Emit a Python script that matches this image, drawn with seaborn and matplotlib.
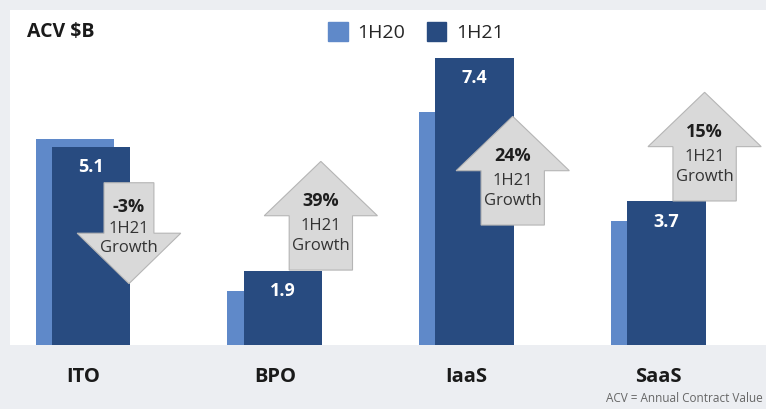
import matplotlib
matplotlib.use("Agg")
import matplotlib.pyplot as plt
from matplotlib.patches import FancyArrow, Patch
import seaborn as sns
import pandas as pd

categories = ["ITO", "BPO", "IaaS", "SaaS"]
acv_1h20 = [5.3, 1.4, 6.0, 3.2]
acv_1h21 = [5.1, 1.9, 7.4, 3.7]
growth = ["-3%", "39%", "24%", "15%"]

# where each growth arrow starts (value units)
arrow_start = [4.18, 1.93, 3.09, 3.71]

light = "#5f89c9"
dark = "#284b80"
bg = "#eceef2"

sns.set_theme(style="white")
plt.rcParams["font.family"] = ["Open Sans", "DejaVu Sans"]

df = pd.DataFrame({"cat": categories, "1H20": acv_1h20, "1H21": acv_1h21})

fig = plt.figure(figsize=(7.66, 4.09), dpi=100, facecolor=bg)
ax = fig.add_axes([10 / 766, 64 / 409, 756 / 766, 335 / 409])
ax.set_facecolor("white")

w = 0.41
off = 0.042
sns.barplot(data=df, x="cat", y="1H20", color=light, width=w, saturation=1, ax=ax)
n = len(ax.patches)
sns.barplot(data=df, x="cat", y="1H21", color=dark, width=w, saturation=1, ax=ax)
for i, p in enumerate(ax.patches):
    p.set_linewidth(0)
    p.set_x(p.get_x() + (-off if i < n else off))

for i, v in enumerate(acv_1h21):
    ax.text(i + off, v - 0.52, f"{v:.1f}", color="white", fontsize=13,
            fontweight="bold", ha="center", va="center", zorder=5)

# growth arrows
for i, g in enumerate(growth):
    x = i + 0.24
    y0 = arrow_start[i]
    if g.startswith("-"):
        arr = FancyArrow(x, y0, 0, -2.6, width=0.26, head_width=0.54,
                         head_length=1.3, length_includes_head=True,
                         fc="#d9d9d9", ec="#b5b5b5", lw=0.8, zorder=4)
        ys = [y0 - 0.62, y0 - 1.19, y0 - 1.68]
    else:
        arr = FancyArrow(x, y0, 0, 2.8, width=0.33, head_width=0.59,
                         head_length=1.4, length_includes_head=True,
                         fc="#d9d9d9", ec="#b5b5b5", lw=0.8, zorder=4)
        ys = [y0 + 1.77, y0 + 1.13, y0 + 0.63]
    ax.add_patch(arr)
    ax.text(x, ys[0], g, fontsize=13, fontweight="bold", color="#1e1e1e",
            ha="center", va="center", zorder=6)
    ax.text(x, ys[1], "1H21", fontsize=12, color="#333333",
            ha="center", va="center", zorder=6)
    ax.text(x, ys[2], "Growth", fontsize=12, color="#333333",
            ha="center", va="center", zorder=6)

ax.set_xlim(-0.38, 3.56)
ax.set_ylim(0, 8.63)
ax.set_xlabel("")
ax.set_ylabel("")
ax.set_yticks([])
ax.tick_params(axis="x", length=0, pad=16)
for lab in ax.get_xticklabels():
    lab.set_fontsize(14.5)
    lab.set_fontweight("bold")
    lab.set_color("#1a1a1a")
sns.despine(ax=ax, left=True, bottom=True)

fig.text(27 / 766, 1 - 32 / 409, "ACV $B", fontsize=14, fontweight="bold",
         color="#1a1a1a", va="center", ha="left")

handles = [Patch(color=light, label="1H20"), Patch(color=dark, label="1H21")]
fig.legend(handles=handles, loc="center", bbox_to_anchor=(416 / 766, 1 - 32 / 409),
           ncol=2, frameon=False, fontsize=14, handlelength=1.0,
           handleheight=1.1, handletextpad=0.5, columnspacing=1.1)

fig.text(763 / 766, 1 - 399 / 409, "ACV = Annual Contract Value", fontsize=8.5,
         color="#666666", ha="right", va="center")

fig.savefig("out.png", dpi=100, facecolor=bg)
